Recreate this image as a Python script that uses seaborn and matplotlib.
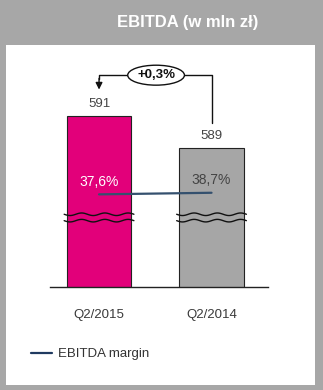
import numpy as np
import pandas as pd
import matplotlib
matplotlib.use("Agg")
import matplotlib.pyplot as plt
import seaborn as sns
from matplotlib.patches import Rectangle
from matplotlib.lines import Line2D

# ---- data ----
periods = ["Q2/2015", "Q2/2014"]
ebitda = [591, 589]
margin = [37.6, 38.7]
ebitda_labels = ["591", "589"]
margin_labels = ["37,6%", "38,7%"]
change_label = "+0,3%"
title = "EBITDA (w mln zł)"
legend_label = "EBITDA margin"

PINK = "#e2007a"
GRAY = "#a6a6a6"
FRAME = "#a7a7a7"
LINE = "#34506e"

sns.set_theme(style="white")
plt.rcParams["font.family"] = ["Liberation Sans", "DejaVu Sans"]

W, H = 323, 390
fig = plt.figure(figsize=(W / 100, H / 100), dpi=100)
fig.patch.set_facecolor(FRAME)

def fx(px):
    return px / W

def fy(py):
    return 1 - py / H

# white inner panel
fig.patches.append(Rectangle((fx(6), fy(385)), fx(315) - fx(6), fy(45) - fy(385),
                             transform=fig.transFigure, facecolor="white",
                             edgecolor="none", zorder=-10))
fig.text(fx(188), fy(22), title, color="white", fontsize=12, fontweight="bold",
         ha="center", va="center")

# main axes
ax_left, ax_right, ax_top, ax_bot = 50, 268, 60, 287
ax = fig.add_axes([fx(ax_left), fy(ax_bot), fx(ax_right) - fx(ax_left), fy(ax_top) - fy(ax_bot)])
ax.set_facecolor("none")

df = pd.DataFrame({"period": periods, "ebitda": ebitda, "margin": margin})
sns.barplot(data=df, x="period", y="ebitda", hue="period", palette=[PINK, GRAY],
            width=0.57, edgecolor="#222222", linewidth=0.8, legend=False, ax=ax,
            saturation=1)

ax.set_xlim(-0.436, 1.502)
ax.set_ylim(580.3, 594.5)
ax.set_xlabel("")
ax.set_ylabel("")
ax.set_yticks([])
for s in ["left", "right", "top"]:
    ax.spines[s].set_visible(False)
ax.spines["bottom"].set_color("#222222")
ax.spines["bottom"].set_linewidth(1.0)
ax.tick_params(axis="x", length=0, pad=16, labelsize=9.5, labelcolor="#3a3a3a")

# value labels above bars
for i, (v, lab) in enumerate(zip(ebitda, ebitda_labels)):
    ax.annotate(lab, (i, v), xytext=(0, 4), textcoords="offset points",
                ha="center", va="bottom", fontsize=9.5, color="#444444")

# break marks across bars
xs = np.linspace(-0.31, 0.31, 80)
for i in range(len(ebitda)):
    for yb in (584.85, 584.45):
        ax.plot(i + xs, yb + 0.08 * np.sin(xs / 0.62 * 2 * np.pi * 3), color="#111111",
                lw=1.0, zorder=5, clip_on=False)

# change bracket
top = max(ebitda)
yb = top + 2.55
ax.plot([1, 1, 0, 0], [ebitda[1] + 1.55, yb, yb, yb - 0.25], color="#111111", lw=1.0,
        zorder=4)
ax.annotate("", xy=(0, top + 1.65), xytext=(0, yb - 0.2),
            arrowprops=dict(arrowstyle="-|>", color="#111111", lw=1.0,
                            mutation_scale=10, shrinkA=0, shrinkB=0))
ax.text(0.507, yb, change_label, ha="center", va="center", fontsize=9.5,
        fontweight="bold", color="#111111", zorder=6,
        bbox=dict(boxstyle="ellipse,pad=0.08", facecolor="white",
                  edgecolor="#111111", lw=1.0))

# margin line on twin axis
ax2 = ax.twinx()
ax2.set_ylim(-26.1, 130.0)
ax2.set_yticks([])
for s in ax2.spines.values():
    s.set_visible(False)
sns.lineplot(x=[0, 1], y=margin, color=LINE, lw=1.6, ax=ax2, zorder=6)
label_colors = ["white", "#444444"]
for i, (m, lab) in enumerate(zip(margin, margin_labels)):
    ax2.annotate(lab, (i, m), xytext=(0, 9), textcoords="offset points",
                 ha="center", va="center", fontsize=10, color=label_colors[i])

# legend
handle = Line2D([], [], color="#1f3a60", lw=1.6)
fig.legend([handle], [legend_label], loc="center left",
           bbox_to_anchor=(fx(19), fy(354)), frameon=False, fontsize=9.5,
           handlelength=1.6, handletextpad=0.45, labelcolor="#333333")

fig.savefig("out.png", dpi=100, facecolor=fig.get_facecolor())
